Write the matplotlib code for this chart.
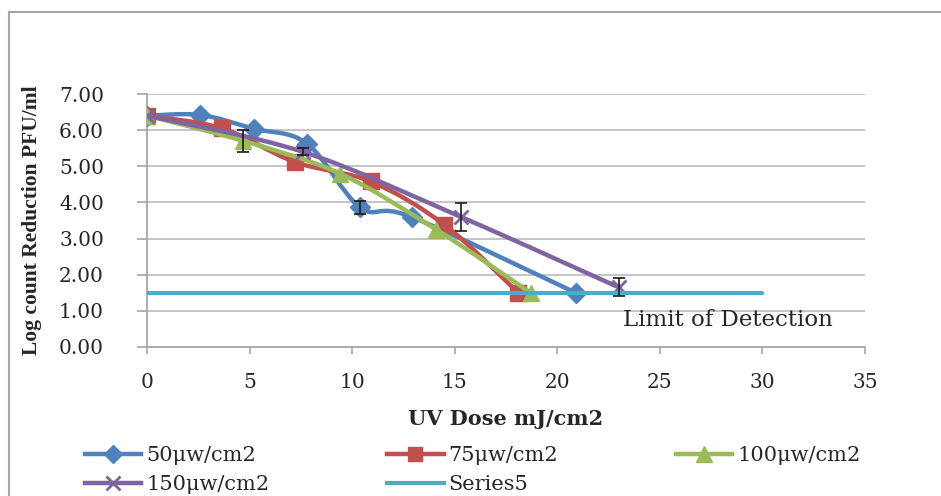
import matplotlib
matplotlib.use("Agg")
import matplotlib.pyplot as plt
from matplotlib.path import Path
from matplotlib.patches import PathPatch
from matplotlib.lines import Line2D
import numpy as np

# ---- data ----
dose_50 = [0, 2.6, 5.2, 7.8, 10.4, 12.9, 20.9]
log_50 = [6.4, 6.42, 6.04, 5.63, 3.86, 3.6, 1.5]
err_50 = [0, 0, 0, 0, 0.18, 0, 0]

dose_75 = [0, 3.65, 7.2, 10.9, 14.5, 18.1]
log_75 = [6.4, 6.05, 5.12, 4.58, 3.38, 1.5]
err_75 = [0, 0, 0, 0, 0, 0]

dose_100 = [0, 4.7, 9.4, 14.1, 18.7]
log_100 = [6.4, 5.7, 4.8, 3.25, 1.5]
err_100 = [0, 0.3, 0, 0, 0]

dose_150 = [0, 7.6, 15.3, 23.0]
log_150 = [6.4, 5.4, 3.6, 1.65]
err_150 = [0, 0.1, 0.38, 0.25]

lod_dose = [0, 30]
lod_val = [1.5, 1.5]

labels = ["50\u03bcw/cm2", "75\u03bcw/cm2", "100\u03bcw/cm2", "150\u03bcw/cm2", "Series5"]
colors = ["#4F81BD", "#C0504D", "#9BBB59", "#8064A2", "#4BACC6"]
xticks = [0, 5, 10, 15, 20, 25, 30, 35]
yticks = [0, 1, 2, 3, 4, 5, 6, 7]

SERIF = "DejaVu Serif"


def smooth_path(x, y):
    """Catmull-Rom style smoothing (like Excel's smoothed line) as cubic Bezier path."""
    pts = np.column_stack([x, y]).astype(float)
    n = len(pts)
    verts = [pts[0]]
    codes = [Path.MOVETO]
    for i in range(n - 1):
        p0 = pts[i - 1] if i > 0 else pts[i]
        p1 = pts[i]
        p2 = pts[i + 1]
        p3 = pts[i + 2] if i + 2 < n else pts[i + 1]
        c1 = p1 + (p2 - p0) / 6.0
        c2 = p2 - (p3 - p1) / 6.0
        verts += [c1, c2, p2]
        codes += [Path.CURVE4] * 3
    return Path(verts, codes)


fig = plt.figure(figsize=(9.41, 4.96), dpi=100)
ax = fig.add_axes([147 / 941, 1 - 347 / 496, (865 - 147) / 941, (347 - 94) / 496])

# chart border (Excel chart area)
fig.add_artist(Line2D([9 / 941, 9 / 941], [0, 1 - 12 / 496], transform=fig.transFigure,
                      color="#A6A6A6", lw=1.5))
fig.add_artist(Line2D([9 / 941, 1], [1 - 12 / 496, 1 - 12 / 496], transform=fig.transFigure,
                      color="#A6A6A6", lw=1.5))

ax.set_xlim(0, 35)
ax.set_ylim(0, 7)
ax.set_xticks(xticks)
ax.set_yticks(yticks)
ax.set_xticklabels([str(v) for v in xticks], fontfamily=SERIF, fontsize=14.5, color="#262626")
ax.set_yticklabels(["%.2f" % v for v in yticks], fontfamily=SERIF, fontsize=14.5, color="#262626")
ax.grid(axis="y", color="#BFBFBF", lw=1.3)
ax.set_axisbelow(True)
for s in ["top", "right"]:
    ax.spines[s].set_visible(False)
for s in ["left", "bottom"]:
    ax.spines[s].set_color("#A6A6A6")
    ax.spines[s].set_linewidth(1.3)
ax.tick_params(axis="y", direction="out", length=7, width=1.2, color="#A6A6A6", pad=24)
ax.tick_params(axis="x", direction="out", length=5, width=1.2, color="#A6A6A6", pad=14)

series = [
    (dose_50, log_50, err_50, "D", 10),
    (dose_75, log_75, err_75, "s", 11),
    (dose_100, log_100, err_100, "^", 12),
    (dose_150, log_150, err_150, "x", 10),
]
handles = []
for i, (x, y, e, m, ms) in enumerate(series):
    c = colors[i]
    patch = PathPatch(smooth_path(x, y), fill=False, edgecolor=c, lw=3.2,
                      capstyle="round", joinstyle="round", zorder=3 + i)
    ax.add_patch(patch)
    if m == "x":
        ax.plot(x, y, ls="none", marker=m, ms=ms, mec=c, mew=2, zorder=3 + i)
    else:
        ax.plot(x, y, ls="none", marker=m, ms=ms, mfc=c, mec=c, zorder=3 + i)
    ex = [xx for xx, ee in zip(x, e) if ee > 0]
    ey = [yy for yy, ee in zip(y, e) if ee > 0]
    ee_ = [ee for ee in e if ee > 0]
    if ex:
        ax.errorbar(ex, ey, yerr=ee_, fmt="none", ecolor="#1a1a1a", elinewidth=1.2,
                    capsize=4, capthick=1.2, zorder=10)
    if m == "x":
        handles.append(Line2D([], [], color=c, lw=3.2, marker=m, ms=ms, mew=2))
    else:
        handles.append(Line2D([], [], color=c, lw=3.2, marker=m, ms=ms - 1, mfc=c, mec=c))

ax.plot(lod_dose, lod_val, color=colors[4], lw=3, zorder=8, solid_capstyle="round")
handles.append(Line2D([], [], color=colors[4], lw=3))

ax.text(28.3, 0.74, "Limit of Detection", fontfamily=SERIF, fontsize=16.5,
        color="#262626", ha="center", va="center")

ax.set_xlabel("UV Dose mJ/cm2", fontfamily=SERIF, fontsize=15, fontweight="bold",
              color="#262626", labelpad=12)
ax.set_ylabel("Log count Reduction PFU/ml", fontfamily="Liberation Serif", fontsize=15.5,
              fontweight="bold", color="#262626", labelpad=12)

order = [0, 3, 1, 4, 2]
leg = fig.legend([handles[k] for k in order], [labels[k] for k in order],
                 ncol=3, loc="upper left", bbox_to_anchor=(85 / 941, 1 - 446 / 496),
                 frameon=False, borderpad=0, borderaxespad=0, handlelength=2.7,
                 handletextpad=0.25, columnspacing=5.65, labelspacing=0.5,
                 prop={"family": SERIF, "size": 15})
for t in leg.get_texts():
    t.set_color("#262626")

fig.savefig("out.png", dpi=100, facecolor="white")
